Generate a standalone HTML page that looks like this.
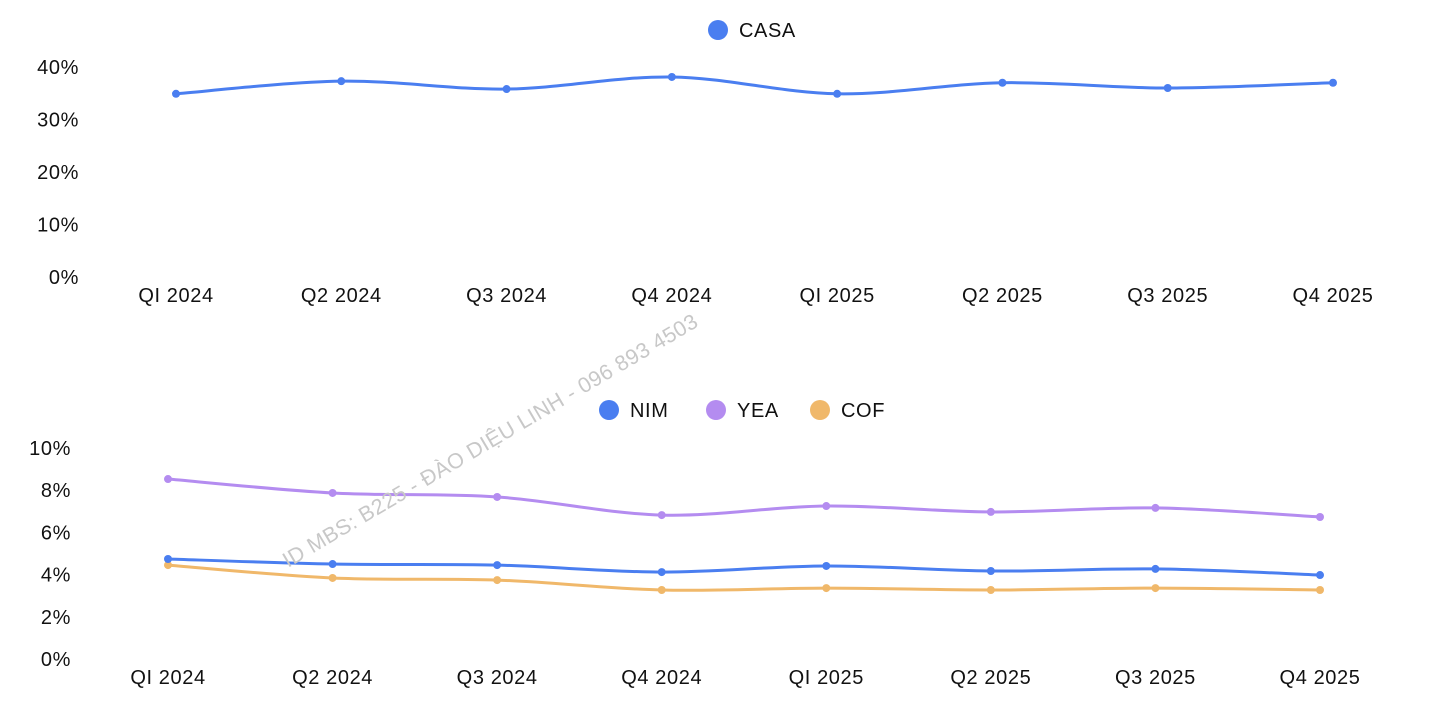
<!DOCTYPE html>
<html><head><meta charset="utf-8"><style>
html,body{margin:0;padding:0;background:#fff;}
svg text{font-family:"Liberation Sans","DejaVu Sans",sans-serif;font-size:20px;fill:#111;letter-spacing:0.6px;}
</style></head><body>
<svg id="c" width="1456" height="716" xmlns="http://www.w3.org/2000/svg"></svg>
<script>
const categories=["QI 2024","Q2 2024","Q3 2024","Q4 2024","QI 2025","Q2 2025","Q3 2025","Q4 2025"];
const casa=[34.9,37.3,35.8,38.1,34.9,37.0,36.0,37.0];
const nim=[4.74,4.50,4.45,4.12,4.41,4.17,4.27,3.98];
const yea=[8.53,7.87,7.68,6.82,7.25,6.97,7.16,6.73];
const cof=[4.45,3.84,3.74,3.27,3.36,3.27,3.36,3.27];
const topTicks=[0,10,20,30,40];
const botTicks=[0,2,4,6,8,10];
const NS="http://www.w3.org/2000/svg";
const svg=document.getElementById('c');
function mk(t,a,p){const e=document.createElementNS(NS,t);for(const k in a)e.setAttribute(k,a[k]);(p||svg).appendChild(e);return e;}
function smooth(pts){let d=`M${pts[0][0]},${pts[0][1]}`;for(let i=0;i<pts.length-1;i++){const p0=pts[i-1]||pts[i],p1=pts[i],p2=pts[i+1],p3=pts[i+2]||p2;const c1=[p1[0]+(p2[0]-p0[0])/6,p1[1]+(p2[1]-p0[1])/6],c2=[p2[0]-(p3[0]-p1[0])/6,p2[1]-(p3[1]-p1[1])/6];d+=` C${c1[0]},${c1[1]} ${c2[0]},${c2[1]} ${p2[0]},${p2[1]}`;}return d;}
function chart(cfg){
  const x=i=>cfg.x0+i*(cfg.x1-cfg.x0)/(categories.length-1);
  const y=v=>cfg.y0-(v-cfg.vmin)/(cfg.vmax-cfg.vmin)*(cfg.y0-cfg.y1);
  cfg.ticks.forEach(t=>{const e=mk('text',{x:cfg.lx,y:y(t)+7,'text-anchor':'end'});e.textContent=t+'%';
    
    });
  categories.forEach((c,i)=>{const e=mk('text',{x:x(i),y:cfg.xl,'text-anchor':'middle'});e.textContent=c;
    
    });
  cfg.series.forEach(s=>{
    const pts=s.v.map((v,i)=>[x(i),y(v)]);
    const p=mk('path',{d:smooth(pts),fill:'none',stroke:s.col,'stroke-width':3});
    
    
    pts.forEach((q,i)=>{const c=mk('circle',{cx:q[0],cy:q[1],r:4,fill:s.col});
      
      });
    const lc=mk('circle',{cx:s.lx,cy:cfg.ly,r:10,fill:s.col});
    
    
    const lt=mk('text',{x:s.lx+21,y:cfg.ly+7});lt.textContent=s.name;
    
    
  });
}
chart({id:'top',x0:176,x1:1333,y0:277,y1:67,vmin:0,vmax:40,ticks:topTicks,lx:79,xl:302,ly:30,
  series:[{name:'CASA',v:casa,col:'#4a7ef0',lx:718}]});
chart({id:'bottom',x0:168,x1:1320,y0:659,y1:448,vmin:0,vmax:10,ticks:botTicks,lx:71,xl:684,ly:410,
  series:[{name:'YEA',v:yea,col:'#b48cf0',lx:716},{name:'COF',v:cof,col:'#f0b86a',lx:820},{name:'NIM',v:nim,col:'#4a7ef0',lx:609}]});
const w=mk('text',{x:0,y:0,transform:'translate(288,568) rotate(-30.5)',style:'font-size:21.5px;fill:#c8c8c8;letter-spacing:0.3px'});
w.textContent='ID MBS: B225 - ĐÀO DIỆU LINH - 096 893 4503';


</script>
</body></html>
